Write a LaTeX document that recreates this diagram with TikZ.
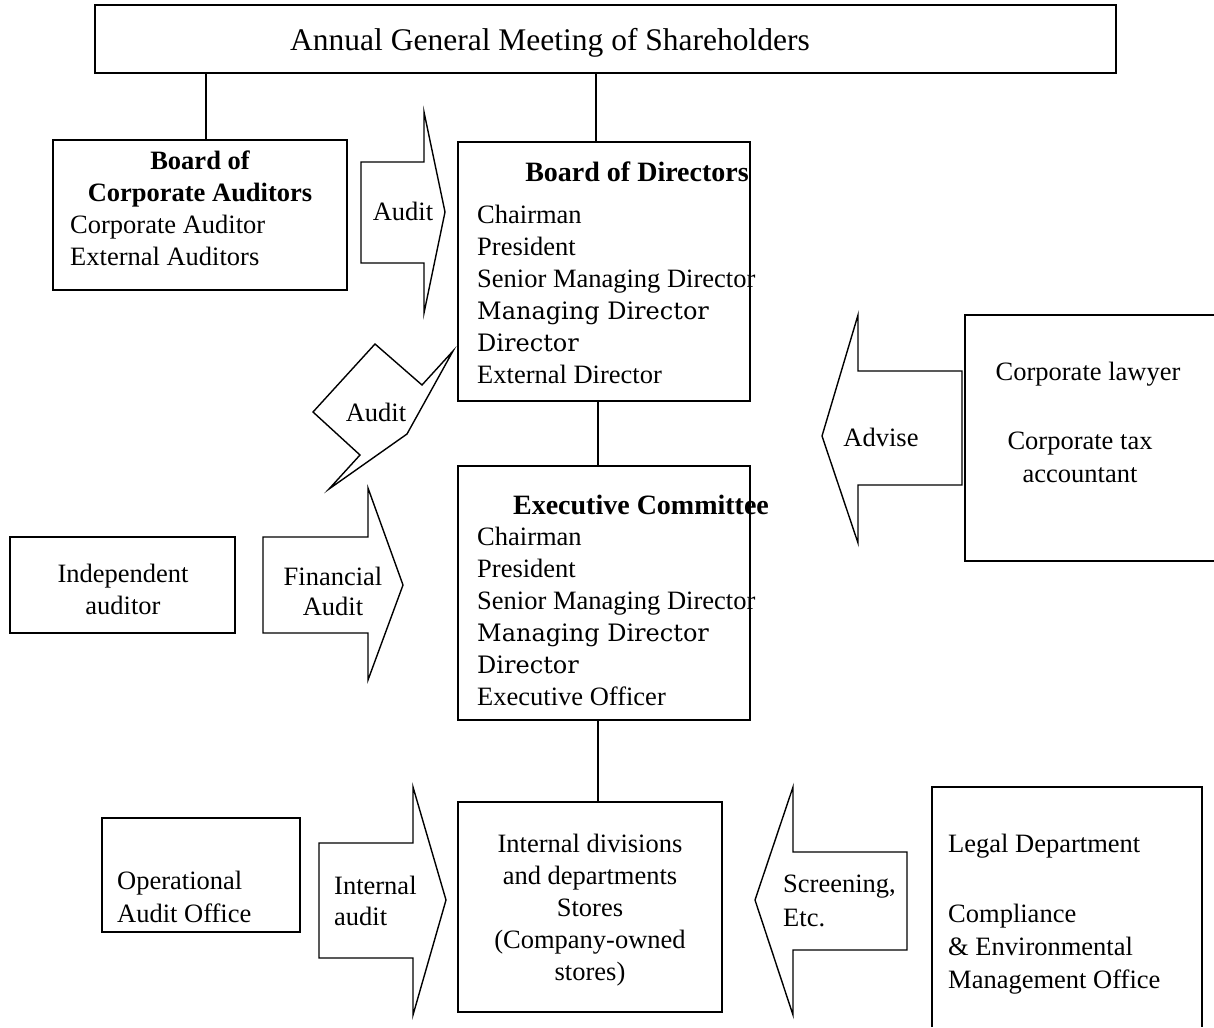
\documentclass[tikz,border=0pt]{standalone}
\usepackage{fontspec}
\setmainfont{Liberation Serif}
\newfontfamily\centfont{DejaVu Serif}
\newcommand\bodyf{\fontsize{26.5}{32}\selectfont}
\newcommand\mgf{\centfont\fontsize{24}{32}\selectfont}
\tikzset{
  box/.style={draw, line width=1.4pt, inner sep=0pt},
  fat/.style={draw, line width=1.4pt, line join=miter},
  txt/.style={inner sep=0pt, font=\bodyf},
  ttl/.style={inner sep=0pt, font=\bodyf\bfseries},
  bigttl/.style={inner sep=0pt, font=\fontsize{28}{32}\selectfont\bfseries},
}
\begin{document}
\begin{tikzpicture}[x=1pt,y=-1pt]
\useasboundingbox (0,0) rectangle (1214,1027);
% boxes
\node[box, minimum width=1021pt, minimum height=68pt] (agm) at (605.5,39) {};
\node[box, minimum width=294pt, minimum height=150pt] (bca) at (200,215) {};
\node[box, minimum width=292pt, minimum height=259pt] (bod) at (604,271.5) {};
\node[box, minimum width=292pt, minimum height=254pt] (exe) at (604,593) {};
\node[box, minimum width=264pt, minimum height=210pt] (ind) at (590,907) {};
\node[box, minimum width=225pt, minimum height=96pt] (indep) at (122.5,585) {};
\node[box, minimum width=198pt, minimum height=114pt] (oao) at (201,875) {};
% partially visible boxes
\draw[line width=1.4pt] (1214,315) -- (965,315) -- (965,561) -- (1214,561);
\draw[line width=1.4pt] (932,1027) -- (932,787) -- (1202,787) -- (1202,1027);
% connectors
\coordinate (xa) at (206,0);
\coordinate (xb) at (596,0);
\coordinate (xc) at (598,0);
\draw[line width=1.4pt] (agm.south -| xa) -- (bca.north -| xa);
\draw[line width=1.4pt] (agm.south -| xb) -- (bod.north -| xb);
\draw[line width=1.4pt] (bod.south -| xc) -- (exe.north -| xc);
\draw[line width=1.4pt] (exe.south -| xc) -- (ind.north -| xc);
% block arrows
\draw[fat] (361,162) -- (424,162) -- (424,112) -- (445,212) -- (424,313) -- (424,263) -- (361,263) -- cycle;
\draw[fat] (375,344) -- (422,385) -- (453,351) -- (407,434) -- (329,489) -- (360,455) -- (313,412) -- cycle;
\draw[fat] (263,537) -- (368,537) -- (368,488) -- (403,585) -- (368,680) -- (368,633) -- (263,633) -- cycle;
\draw[fat] (962,371) -- (858,371) -- (858,315) -- (822,436) -- (858,543) -- (858,485) -- (962,485) -- cycle;
\draw[fat] (319,843) -- (413,843) -- (413,787) -- (446,900) -- (413,1015) -- (413,958) -- (319,958) -- cycle;
\draw[fat] (907,852) -- (793,852) -- (793,787) -- (755,900) -- (793,1015) -- (793,950) -- (907,950) -- cycle;
% texts
\node[inner sep=0pt, font=\fontsize{31.5}{36}\selectfont, anchor=base] (t0) at (550,51) {Annual General Meeting of Shareholders};
\node[ttl, anchor=base] (t1) at (200,169) {Board of};
\node[ttl, anchor=base] (t2) at (200,201) {Corporate Auditors};
\node[txt, anchor=base west] (t3) at (70,233) {Corporate Auditor};
\node[txt, anchor=base west] (t4) at (70,265) {External Auditors};
\node[txt, anchor=base] (a1) at (403,220) {Audit};
\node[txt, anchor=base] (a2) at (376,421) {Audit};
\node[txt, anchor=base] (a3) at (333,585) {Financial};
\node[txt, anchor=base] (a4) at (333,615) {Audit};
\node[txt, anchor=base] (a5) at (881,446) {Advise};
\node[txt, anchor=base west] (a6) at (334,894) {Internal};
\node[txt, anchor=base west] (a7) at (334,925) {audit};
\node[txt, anchor=base west] (a8) at (783,892) {Screening,};
\node[txt, anchor=base west] (a9) at (783,926) {Etc.};
% board of directors
\node[bigttl, anchor=base] (b0) at (637,182) {Board of Directors};
\node[txt, anchor=base west] (b1) at (477,223) {Chairman};
\node[txt, anchor=base west] (b2) at (477,255) {President};
\node[txt, anchor=base west] (b3) at (477,287) {Senior Managing Director};
\node[inner sep=0pt, font=\mgf, anchor=base west] (b4) at (477,319) {Managing Director};
\node[inner sep=0pt, font=\mgf, anchor=base west] (b5) at (477,351) {Director};
\node[txt, anchor=base west] (b6) at (477,383) {External Director};
% executive committee
\node[bigttl, anchor=base] (e0) at (641,514) {Executive Committee};
\node[txt, anchor=base west] (e1) at (477,545) {Chairman};
\node[txt, anchor=base west] (e2) at (477,577) {President};
\node[txt, anchor=base west] (e3) at (477,609) {Senior Managing Director};
\node[inner sep=0pt, font=\mgf, anchor=base west] (e4) at (477,641) {Managing Director};
\node[inner sep=0pt, font=\mgf, anchor=base west] (e5) at (477,673) {Director};
\node[txt, anchor=base west] (e6) at (477,705) {Executive Officer};
% internal divisions
\node[txt, anchor=base] (i1) at (590,852) {Internal divisions};
\node[txt, anchor=base] (i2) at (590,884) {and departments};
\node[txt, anchor=base] (i3) at (590,916) {Stores};
\node[txt, anchor=base] (i4) at (590,948) {(Company-owned};
\node[txt, anchor=base] (i5) at (590,980) {stores)};
% others
\node[txt, anchor=base] (n1) at (123,582) {Independent};
\node[txt, anchor=base] (n2) at (123,614) {auditor};
\node[txt, anchor=base west] (n3) at (117,889) {Operational};
\node[txt, anchor=base west] (n4) at (117,922) {Audit Office};
\node[txt, anchor=base] (n5) at (1088,380) {Corporate lawyer};
\node[txt, anchor=base] (n6) at (1080,449) {Corporate tax};
\node[txt, anchor=base] (n7) at (1080,482) {accountant};
\node[txt, anchor=base west] (n8) at (948,852) {Legal Department};
\node[txt, anchor=base west] (n9) at (948,922) {Compliance};
\node[txt, anchor=base west] (n10) at (948,955) {\& Environmental};
\node[txt, anchor=base west] (n11) at (948,988) {Management Office};
\end{tikzpicture}
\end{document}
